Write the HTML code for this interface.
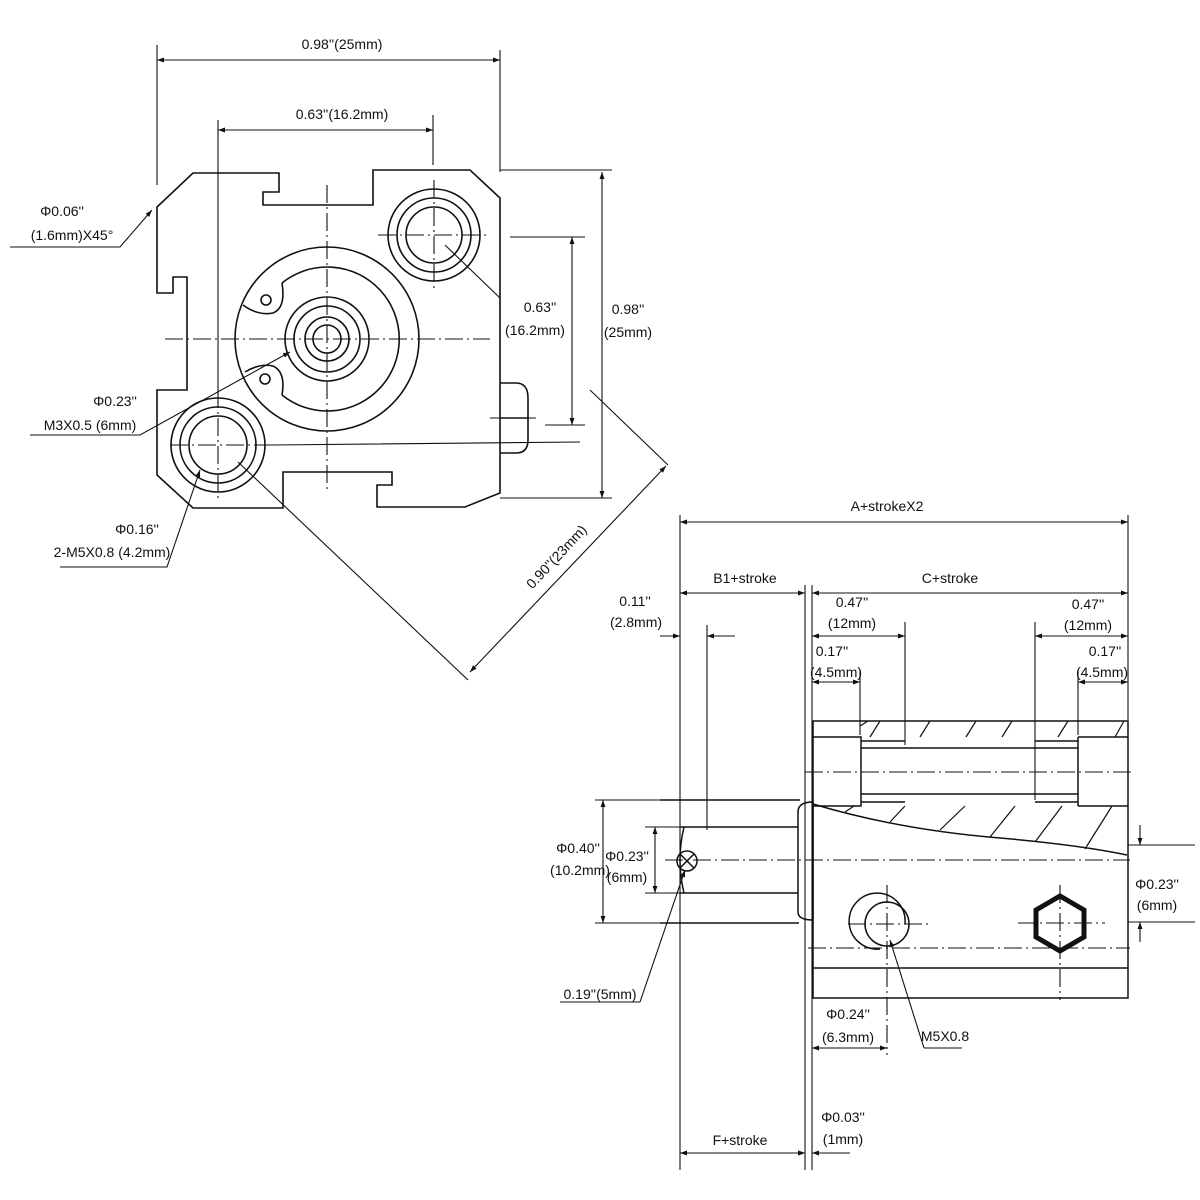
<!DOCTYPE html>
<html><head><meta charset="utf-8"><style>
html,body{margin:0;padding:0;background:#fff}
svg{display:block}
text{font-family:"Liberation Sans",sans-serif;font-size:14px;fill:#111}
</style></head><body>
<svg width="1200" height="1200" viewBox="0 0 1200 1200" xmlns="http://www.w3.org/2000/svg">
<defs>
<marker id="a" viewBox="0 0 10 10" refX="10" refY="5" markerWidth="9" markerHeight="7" orient="auto-start-reverse" markerUnits="userSpaceOnUse"><path d="M0,1.5L10,5L0,8.5z" fill="#111"/></marker>
</defs>
<g stroke="#111" stroke-width="1.6" fill="none">
<path d="M193,173 L279,173 L279,192 L263,192 L263,205 L373,205 L373,170 L470,170 L500,198 L500,493 L465,507 L377,507 L377,485 L392,485 L392,472 L283,472 L283,508 L193,508 L157,475 L157,390 L187,390 L187,277 L173,277 L173,293 L157,293 L157,207 Z"/>
<circle cx="327" cy="339" r="92"/>
<path d="M282,283 A72,72 0 1 1 282,395"/>
<path d="M243,305 Q258,316 273,313 Q286,308 282,283"/>
<path d="M245,372 Q260,363 273,366 Q286,372 282,395"/>
<circle cx="327" cy="339" r="42"/><circle cx="327" cy="339" r="33"/><circle cx="327" cy="339" r="22"/><circle cx="327" cy="339" r="14"/>
<circle cx="266" cy="300" r="5"/><circle cx="265" cy="379" r="5"/>
<circle cx="434" cy="235" r="46"/><circle cx="434" cy="235" r="37"/><circle cx="434" cy="235" r="28"/>
<circle cx="218" cy="445" r="47"/><circle cx="218" cy="445" r="38"/><circle cx="218" cy="445" r="29"/>
<path d="M500,383 L516,383 Q528,383 528,398 L528,440 Q528,453 516,453 L500,453 M500,418 L528,418"/>
</g>
<g stroke="#111" stroke-width="1.1" fill="none" stroke-dasharray="18,4,2,4">
<path d="M165,339 L490,339 M327,185 L327,492 M378,235 L490,235 M434,180 L434,290 M170,445 L272,445 M218,390 L218,500 M490,418 L540,418"/>
</g>
<g stroke="#111" stroke-width="1.1" fill="none">
<path d="M272,445 L580,442 M157,45 L157,185 M500,50 L500,172 M218,120 L218,395 M433,115 L433,165 M500,170 L612,170 M500,498 L612,498 M510,237 L585,237 M545,425 L585,425"/>
<path d="M445,245 L500,298 M238,462 L468,680 M590,390 L668,465"/>
<path d="M10,247 L120,247 L152,210" marker-end="url(#a)"/>
<path d="M30,435 L140,435 L290,352" marker-end="url(#a)"/>
<path d="M60,567 L167,567 L200,470" marker-end="url(#a)"/>
<path d="M157,60 L500,60" marker-start="url(#a)" marker-end="url(#a)"/>
<path d="M218,130 L433,130" marker-start="url(#a)" marker-end="url(#a)"/>
<path d="M602,172 L602,498" marker-start="url(#a)" marker-end="url(#a)"/>
<path d="M572,237 L572,425" marker-start="url(#a)" marker-end="url(#a)"/>
<path d="M470,672 L666,466" marker-start="url(#a)" marker-end="url(#a)"/>
</g>
<text x="342" y="49" text-anchor="middle">0.98''(25mm)</text>
<text x="342" y="119" text-anchor="middle">0.63''(16.2mm)</text>
<text x="62" y="216" text-anchor="middle">Φ0.06''</text>
<text x="72" y="240" text-anchor="middle">(1.6mm)X45°</text>
<text x="115" y="406" text-anchor="middle">Φ0.23''</text>
<text x="90" y="430" text-anchor="middle">M3X0.5 (6mm)</text>
<text x="137" y="534" text-anchor="middle">Φ0.16''</text>
<text x="112" y="557" text-anchor="middle">2-M5X0.8 (4.2mm)</text>
<text x="540" y="312" text-anchor="middle">0.63''</text>
<text x="535" y="335" text-anchor="middle">(16.2mm)</text>
<text x="628" y="314" text-anchor="middle">0.98''</text>
<text x="628" y="337" text-anchor="middle">(25mm)</text>
<text x="560" y="560" text-anchor="middle" transform="rotate(-47 560 560)">0.90''(23mm)</text>

<g stroke="#111" stroke-width="1.5" fill="none">
<rect x="813" y="721" width="315" height="277"/>
<path d="M813,737 L861,737 L861,806 L813,806 M861,741 L905,741 M861,748 L1078,748 M861,794 L1078,794 M861,802 L905,802 M1035,741 L1078,741 M1035,802 L1078,802 M1078,737 L1128,737 M1078,806 L1128,806 M1078,737 L1078,806"/>
<path d="M813,804 Q900,830 1000,838 Q1080,845 1127,855"/>
<path d="M813,968 L1128,968"/>
<path d="M680,827 L798,827 M680,893 L798,893 M684,827 Q676,860 684,893"/>
<path d="M798,812 Q798,802 813,802 L813,920 Q798,920 798,912 Z"/>
<path d="M660,800 L800,800 M660,923 L799,923"/>
<circle cx="687" cy="861" r="10"/><path d="M680,854 L694,868 M694,854 L680,868"/>
<path d="M905,924 A28,28 0 1 0 880,949" /><circle cx="887" cy="924" r="22"/>
<polygon points="1060,896 1084,910 1084,937 1060,951 1036,937 1036,910" stroke-width="5"/>
</g>
<g stroke="#111" stroke-width="1.2">
<path d="M860,726 L868,721 M870,737 L880,721 M920,737 L930,721 M966,737 L976,721 M1002,737 L1012,721 M1058,737 L1068,721 M1115,737 L1124,721 M845,812 L854,806 M890,822 L905,806 M940,830 L965,806 M990,837 L1015,806 M1035,842 L1062,806 M1085,849 L1112,806"/>
</g>
<g stroke="#111" stroke-width="1.1" fill="none" stroke-dasharray="18,4,2,4">
<path d="M805,772 L1135,772 M665,860 L1130,860 M808,948 L1130,948 M848,924 L930,924 M1018,923 L1105,923 M887,885 L887,1055 M1060,885 L1060,1000"/>
</g>
<g stroke="#111" stroke-width="1.1" fill="none">
<path d="M680,515 L680,1170 M1128,515 L1128,720 M805,585 L805,1170 M812,585 L812,1170 M707,625 L707,830 M905,622 L905,745 M1035,622 L1035,800 M860,670 L860,735 M1078,670 L1078,735 M595,800 L680,800 M595,923 L680,923 M645,827 L680,827 M645,893 L680,893 M1128,845 L1195,845 M1128,922 L1195,922 M560,1002 L640,1002 M924,1048 L962,1048"/>
<path d="M640,1002 L685,870" marker-end="url(#a)"/>
<path d="M924,1048 L890,940" marker-end="url(#a)"/>
<path d="M680,522 L1128,522" marker-start="url(#a)" marker-end="url(#a)"/>
<path d="M680,593 L805,593" marker-start="url(#a)" marker-end="url(#a)"/>
<path d="M812,593 L1128,593" marker-start="url(#a)" marker-end="url(#a)"/>
<path d="M812,636 L905,636" marker-start="url(#a)" marker-end="url(#a)"/>
<path d="M1035,636 L1128,636" marker-start="url(#a)" marker-end="url(#a)"/>
<path d="M812,682 L860,682" marker-start="url(#a)" marker-end="url(#a)"/>
<path d="M1078,682 L1128,682" marker-start="url(#a)" marker-end="url(#a)"/>
<path d="M660,636 L680,636" marker-end="url(#a)"/>
<path d="M735,636 L707,636" marker-end="url(#a)"/>
<path d="M603,800 L603,923" marker-start="url(#a)" marker-end="url(#a)"/>
<path d="M655,827 L655,893" marker-start="url(#a)" marker-end="url(#a)"/>
<path d="M1140,825 L1140,845" marker-end="url(#a)"/>
<path d="M1140,942 L1140,922" marker-end="url(#a)"/>
<path d="M812,1048 L887,1048" marker-start="url(#a)" marker-end="url(#a)"/>
<path d="M680,1153 L805,1153" marker-start="url(#a)" marker-end="url(#a)"/>
<path d="M775,1153 L805,1153" marker-end="url(#a)"/>
<path d="M850,1153 L812,1153" marker-end="url(#a)"/>
</g>
<text x="887" y="511" text-anchor="middle">A+strokeX2</text>
<text x="745" y="583" text-anchor="middle">B1+stroke</text>
<text x="950" y="583" text-anchor="middle">C+stroke</text>
<text x="852" y="607" text-anchor="middle">0.47''</text>
<text x="852" y="628" text-anchor="middle">(12mm)</text>
<text x="1088" y="609" text-anchor="middle">0.47''</text>
<text x="1088" y="630" text-anchor="middle">(12mm)</text>
<text x="832" y="656" text-anchor="middle">0.17''</text>
<text x="836" y="677" text-anchor="middle">(4.5mm)</text>
<text x="1105" y="656" text-anchor="middle">0.17''</text>
<text x="1102" y="677" text-anchor="middle">(4.5mm)</text>
<text x="635" y="606" text-anchor="middle">0.11''</text>
<text x="636" y="627" text-anchor="middle">(2.8mm)</text>
<text x="578" y="853" text-anchor="middle">Φ0.40''</text>
<text x="580" y="875" text-anchor="middle">(10.2mm)</text>
<text x="627" y="861" text-anchor="middle">Φ0.23''</text>
<text x="627" y="882" text-anchor="middle">(6mm)</text>
<text x="1157" y="889" text-anchor="middle">Φ0.23''</text>
<text x="1157" y="910" text-anchor="middle">(6mm)</text>
<text x="600" y="999" text-anchor="middle">0.19''(5mm)</text>
<text x="848" y="1019" text-anchor="middle">Φ0.24''</text>
<text x="848" y="1042" text-anchor="middle">(6.3mm)</text>
<text x="945" y="1041" text-anchor="middle">M5X0.8</text>
<text x="843" y="1122" text-anchor="middle">Φ0.03''</text>
<text x="843" y="1144" text-anchor="middle">(1mm)</text>
<text x="740" y="1145" text-anchor="middle">F+stroke</text>
</svg>
</body></html>
